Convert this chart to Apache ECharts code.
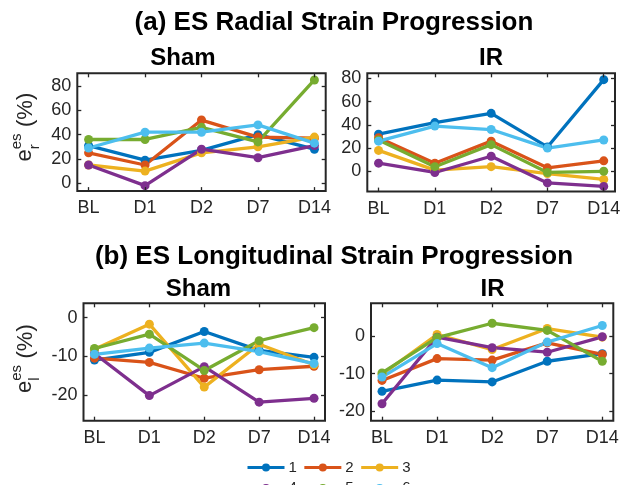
<!DOCTYPE html>
<html><head><meta charset="utf-8">
<script src="https://cdn.jsdelivr.net/npm/echarts@6/dist/echarts.min.js"></script>
<style>html,body{margin:0;padding:0;background:#fff}#c{width:631px;height:485px}</style>
</head><body><div id="c"></div>
<script>
const categories = ['BL', 'D1', 'D2', 'D7', 'D14'];
const seriesNames = ['1', '2', '3', '4', '5', '6'];
const colors = ['#0072BD', '#D95319', '#EDB120', '#7E2F8E', '#77AC30', '#4DBEEE'];

// (a) radial strain, Sham
const shamRadial = [
  [31, 19, 27, 40, 28],
  [25, 15, 52, 38, 37],
  [15, 10, 25, 30, 38],
  [15, -2, 28, 21, 31],
  [36, 36, 46, 34, 85],
  [29, 42, 42, 48, 33]
];
// (a) radial strain, IR
const irRadial = [
  [32, 42, 50, 21, 79],
  [29, 7, 26, 3, 9],
  [18, 1, 4, -2, -7],
  [7, -1, 13, -10, -13],
  [27, 4, 23, -1, 0],
  [26, 39, 36, 20, 27]
];
// (b) longitudinal strain, Sham
const shamLong = [
  [-11, -9, -3.6, -8.5, -10.3],
  [-10.5, -11.6, -15.7, -13.5, -12.6],
  [-8.2, -1.7, -18, -6.9, -12.2],
  [-9.3, -20.2, -12.7, -21.9, -20.9],
  [-8, -4.3, -13.7, -6, -2.6],
  [-9.5, -7.9, -6.6, -8.8, -11.9]
];
// (b) longitudinal strain, IR
const irLong = [
  [-14.7, -11.7, -12.2, -6.7, -4.7],
  [-11.8, -6, -6.4, -1.8, -4.9],
  [-10.2, 0.4, -3.6, 2, -0.3],
  [-18, -0.3, -3.1, -4.3, -0.2],
  [-9.8, -0.4, 3.4, 1.5, -6.7],
  [-10.9, -2, -8.4, -1.6, 2.8]
];
const radialTicks = [0, 20, 40, 60, 80];
const longTicks = [-20, -10, 0];
const xTicks = [0, 1, 2, 3, 4];

const FONT = '"Liberation Sans", Arial, Helvetica, sans-serif';
const AX = '#262626';

const panels = [
  {data: shamRadial, grid: {left: 77.3, top: 73.3, width: 248.4, height: 117.8}, ymin: -6.5, ymax: 90.5, ticks: radialTicks},
  {data: irRadial,   grid: {left: 367.3, top: 73.3, width: 247.7, height: 118.3}, ymin: -17.5, ymax: 84.5, ticks: radialTicks},
  {data: shamLong,   grid: {left: 83.5, top: 303.3, width: 241.5, height: 117.4}, ymin: -26.7, ymax: 3.7, ticks: longTicks},
  {data: irLong,     grid: {left: 371, top: 303.3, width: 242.3, height: 117.4}, ymin: -22.5, ymax: 8.7, ticks: longTicks}
];

const grids = [], xAxes = [], yAxes = [], series = [];
panels.forEach((p, i) => {
  grids.push(Object.assign({show: true, borderColor: AX, borderWidth: 2, backgroundColor: 'transparent', z: 10}, p.grid));
  const tick = () => ({show: true, inside: true, length: 4, lineStyle: {color: AX, width: 1.3}});
  const line = () => ({show: false, onZero: false});
  const lbl = {show: true, color: AX, fontSize: 18, fontFamily: FONT};
  xAxes.push({gridIndex: i, type: 'value', min: -0.2, max: 4.2, position: 'bottom', z: 10,
    axisLine: line(), splitLine: {show: false},
    axisTick: Object.assign(tick(), {customValues: xTicks}),
    axisLabel: Object.assign({customValues: xTicks, margin: 8, formatter: v => categories[v]}, lbl)});
  xAxes.push({gridIndex: i, type: 'value', min: -0.2, max: 4.2, position: 'top', z: 10,
    axisLine: line(), splitLine: {show: false}, axisLabel: {show: false},
    axisTick: Object.assign(tick(), {customValues: xTicks})});
  yAxes.push({gridIndex: i, type: 'value', min: p.ymin, max: p.ymax, position: 'left', z: 10,
    axisLine: line(), splitLine: {show: false},
    axisTick: Object.assign(tick(), {customValues: p.ticks}),
    axisLabel: Object.assign({customValues: p.ticks, margin: 6}, lbl)});
  yAxes.push({gridIndex: i, type: 'value', min: p.ymin, max: p.ymax, position: 'right', z: 10,
    axisLine: line(), splitLine: {show: false}, axisLabel: {show: false},
    axisTick: Object.assign(tick(), {customValues: p.ticks})});
  p.data.forEach((vals, s) => {
    series.push({type: 'line', name: seriesNames[s], xAxisIndex: 2 * i, yAxisIndex: 2 * i,
      data: vals.map((v, j) => [xTicks[j], v]),
      symbol: 'circle', symbolSize: 9, showSymbol: true,
      lineStyle: {width: 3.3, color: colors[s]}, itemStyle: {color: colors[s]},
      emphasis: {disabled: true}});
  });
});

function txt(text, x, y, size, bold, align) {
  return {type: 'text', x: x, y: y, silent: true,
    style: {text: text, fontSize: size, fontFamily: FONT, fontWeight: bold ? 'bold' : 'normal',
      fill: bold ? '#000' : AX, align: align || 'center', textAlign: align || 'center',
      verticalAlign: 'middle', textVerticalAlign: 'middle'}};
}
function ylabel(sub, cx, cy) {
  return {type: 'group', x: cx, y: cy, rotation: Math.PI / 2, silent: true,
    children: [
      txt('e', -34, 0, 22, false, 'left'),
      txt('es', -21.8, -7.5, 15, false, 'left'),
      txt(sub, -21.8, 10, 15, false, 'left'),
      txt('(%)', 0.5, 1, 22, false, 'left')
    ]};
}

const legendBase = {left: 246, padding: 0, itemWidth: 37, itemHeight: 10, itemGap: 6, selectedMode: false,
  lineStyle: {width: 3}, textStyle: {fontSize: 15, color: AX, fontFamily: FONT, padding: [0, 0, 0, -1]}};

const chart = echarts.init(document.getElementById('c'), null, {renderer: 'canvas'});
chart.setOption({
  animation: false,
  color: colors,
  grid: grids, xAxis: xAxes, yAxis: yAxes, series: series,
  legend: [
    Object.assign({data: ['1', '2', '3'], top: 460}, legendBase),
    Object.assign({data: ['4', '5', '6'], top: 480.5}, legendBase)
  ],
  graphic: [
    txt('(a) ES Radial Strain Progression', 334, 23, 26, true),
    txt('Sham', 183, 58, 24, true),
    txt('IR', 491, 58, 24, true),
    txt('(b) ES Longitudinal Strain Progression', 334, 257, 26, true),
    txt('Sham', 198.5, 289, 24, true),
    txt('IR', 492.5, 289, 24, true),
    ylabel('r', 24.5, 127.5),
    ylabel('l', 24.5, 359)
  ]
});
</script></body></html>
